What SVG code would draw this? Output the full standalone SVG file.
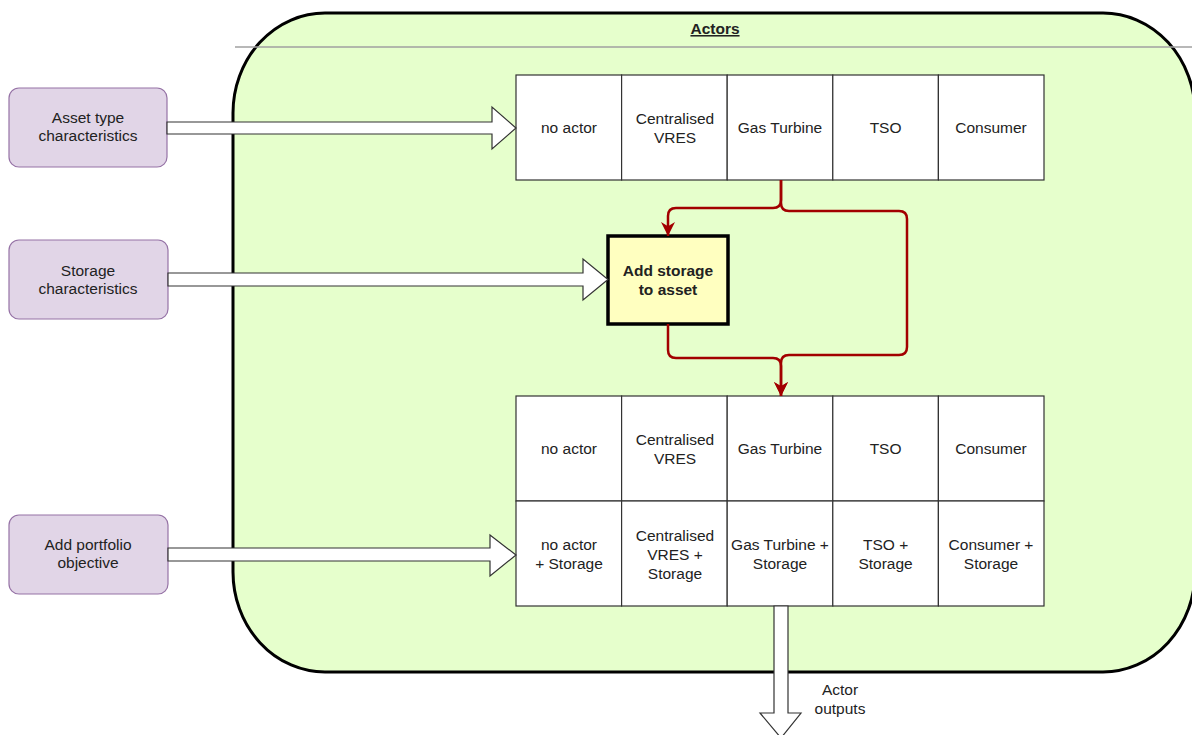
<svg xmlns="http://www.w3.org/2000/svg" width="1192" height="735" viewBox="0 0 1192 735">
<defs>
<style>
text{font-family:"Liberation Sans",Arial,sans-serif;font-size:15.5px;fill:#222;text-anchor:middle}
.b{font-weight:bold}
.cell{fill:#fff;stroke:#333;stroke-width:1.2}
.src{fill:#e1d5e7;stroke:#9673a6;stroke-width:1.2}
.flex{fill:#fff;stroke:#333;stroke-width:1.2;stroke-linejoin:miter}
.red{fill:none;stroke:#a20000;stroke-width:2.5}
</style>
<marker id="ah" viewBox="0 0 10 10" refX="10" refY="5" markerWidth="14" markerHeight="15" markerUnits="userSpaceOnUse" orient="auto">
<path d="M0,0 L10,5 L0,10 L3,5 z" fill="#a20000"/>
</marker>
</defs>
<rect width="1192" height="735" fill="#fff"/>
<g id="container">
<rect x="233" y="13" width="962" height="659" rx="92" ry="100" fill="#e6ffcc" stroke="#000" stroke-width="3"/>
<line x1="235" y1="47" x2="1192" y2="47" stroke="#a0a0a0" stroke-width="1.5"/>
<text x="715" y="34" class="b" text-decoration="underline">Actors</text>
</g>
<g id="top-row">
<rect class="cell" x="516" y="75" width="105.6" height="105"/>
<rect class="cell" x="621.6" y="75" width="105.6" height="105"/>
<rect class="cell" x="727.2" y="75" width="105.6" height="105"/>
<rect class="cell" x="832.8" y="75" width="105.6" height="105"/>
<rect class="cell" x="938.4" y="75" width="105.6" height="105"/>
<text x="569" y="133">no actor</text>
<text x="675" y="124">Centralised</text>
<text x="675" y="143">VRES</text>
<text x="780" y="133">Gas Turbine</text>
<text x="885.6" y="133">TSO</text>
<text x="991" y="133">Consumer</text>
</g>
<g id="bottom-table">
<rect class="cell" x="516" y="396" width="105.6" height="105"/>
<rect class="cell" x="621.6" y="396" width="105.6" height="105"/>
<rect class="cell" x="727.2" y="396" width="105.6" height="105"/>
<rect class="cell" x="832.8" y="396" width="105.6" height="105"/>
<rect class="cell" x="938.4" y="396" width="105.6" height="105"/>
<rect class="cell" x="516" y="501" width="105.6" height="105"/>
<rect class="cell" x="621.6" y="501" width="105.6" height="105"/>
<rect class="cell" x="727.2" y="501" width="105.6" height="105"/>
<rect class="cell" x="832.8" y="501" width="105.6" height="105"/>
<rect class="cell" x="938.4" y="501" width="105.6" height="105"/>
<text x="569" y="454">no actor</text>
<text x="675" y="445">Centralised</text>
<text x="675" y="464">VRES</text>
<text x="780" y="454">Gas Turbine</text>
<text x="885.6" y="454">TSO</text>
<text x="991" y="454">Consumer</text>
<text x="569" y="550">no actor</text>
<text x="569" y="569">+ Storage</text>
<text x="675" y="541">Centralised</text>
<text x="675" y="560">VRES +</text>
<text x="675" y="579">Storage</text>
<text x="780" y="550">Gas Turbine +</text>
<text x="780" y="569">Storage</text>
<text x="885.6" y="550">TSO +</text>
<text x="885.6" y="569">Storage</text>
<text x="991" y="550">Consumer +</text>
<text x="991" y="569">Storage</text>
</g>
<g id="add-storage">
<rect x="608" y="236" width="120" height="88" fill="#ffffc0" stroke="#000" stroke-width="3.5"/>
<text x="668" y="276" class="b">Add storage</text>
<text x="668" y="295" class="b">to asset</text>
</g>
<g id="asset-type">
<rect class="src" x="9" y="88" width="158" height="79" rx="10"/>
<text x="88" y="123">Asset type</text>
<text x="88" y="141">characteristics</text>
</g>
<g id="storage-char">
<rect class="src" x="9" y="240" width="159" height="79" rx="10"/>
<text x="88" y="276">Storage</text>
<text x="88" y="294">characteristics</text>
</g>
<g id="portfolio">
<rect class="src" x="9" y="515" width="159" height="79" rx="10"/>
<text x="88" y="550">Add portfolio</text>
<text x="88" y="568">objective</text>
</g>
<g id="connectors">
<polygon class="flex" points="167,122 492,122 492,107 516,128 492,149 492,134 167,134"/>
<polygon class="flex" points="168,273 583,273 583,259 608,279.5 583,300 583,286 168,286"/>
<polygon class="flex" points="168,548 490,548 490,535 516,555 490,576 490,561 168,561"/>
<polygon class="flex" points="774,606 788,606 788,713 801,713 781,738 760,713 774,713"/>
<path class="red" d="M781,180 V200 Q781,208 773,208 H676 Q668,208 668,216 V236" marker-end="url(#ah)"/>
<path class="red" d="M781,180 V203 Q781,211 789,211 H899 Q907,211 907,219 V347 Q907,355 899,355 H789 Q781,355 781,363 V396" marker-end="url(#ah)"/>
<path class="red" d="M668,324 V350 Q668,358 676,358 H773 Q781,358 781,366 V396" marker-end="url(#ah)"/>
</g>
<g id="label-outputs">
<text x="840" y="695">Actor</text>
<text x="840" y="714">outputs</text>
</g>
</svg>
